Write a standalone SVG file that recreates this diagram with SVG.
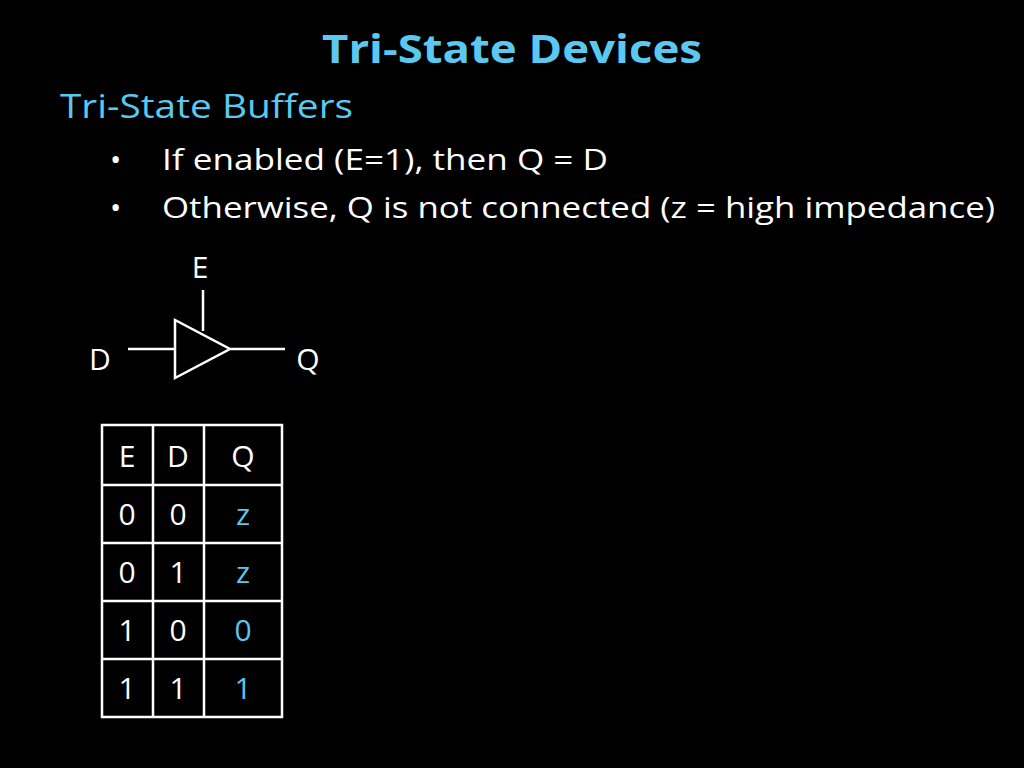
<svg xmlns="http://www.w3.org/2000/svg" width="1024" height="768" viewBox="0 0 1024 768">
<style>
text{font-family:"Open Sans","Liberation Sans",sans-serif;}
.w{fill:#fff}.b{fill:#5bc8f0}
.ln{stroke:#fff;stroke-width:2.5;fill:none}
.c{text-anchor:middle;font-size:30px}
</style>
<rect width="1024" height="768" fill="#000"/>
<g id="title"><text x="512" y="63" class="b" text-anchor="middle" font-size="40" font-weight="bold" textLength="380" lengthAdjust="spacingAndGlyphs">Tri-State Devices</text></g>
<g id="text">
<text x="60" y="118" class="b" font-size="32" textLength="293" lengthAdjust="spacingAndGlyphs">Tri-State Buffers</text>
<text x="110" y="170" class="w" font-size="30">•</text>
<text x="162" y="170" class="w" font-size="30" textLength="446" lengthAdjust="spacingAndGlyphs">If enabled (E=1), then Q = D</text>
<text x="110" y="218" class="w" font-size="30">•</text>
<text x="162" y="218" class="w" font-size="30" textLength="833" lengthAdjust="spacingAndGlyphs">Otherwise, Q is not connected (z = high impedance)</text>
</g>
<g id="buffer">
<text x="200" y="278" class="w c">E</text>
<text x="100" y="370" class="w c">D</text>
<text x="308" y="370" class="w c">Q</text>
<path class="ln" d="M203 290V331M128 349H175M230 349H285M175 320L175 378L230 349Z"/>
</g>
<g id="table">
<path class="ln" d="M102 425H282V717H102ZM153 425V717M204 425V717M102 485H282M102 543H282M102 601H282M102 659H282"/>
<g class="c">
<text x="127" y="467" class="w">E</text><text x="178" y="467" class="w">D</text><text x="243" y="467" class="w">Q</text>
<text x="127" y="525" class="w">0</text><text x="178" y="525" class="w">0</text><text x="243" y="525" class="b">z</text>
<text x="127" y="583" class="w">0</text><text x="178" y="583" class="w">1</text><text x="243" y="583" class="b">z</text>
<text x="127" y="641" class="w">1</text><text x="178" y="641" class="w">0</text><text x="243" y="641" class="b">0</text>
<text x="127" y="699" class="w">1</text><text x="178" y="699" class="w">1</text><text x="243" y="699" class="b">1</text>
</g>
</g>
</svg>
